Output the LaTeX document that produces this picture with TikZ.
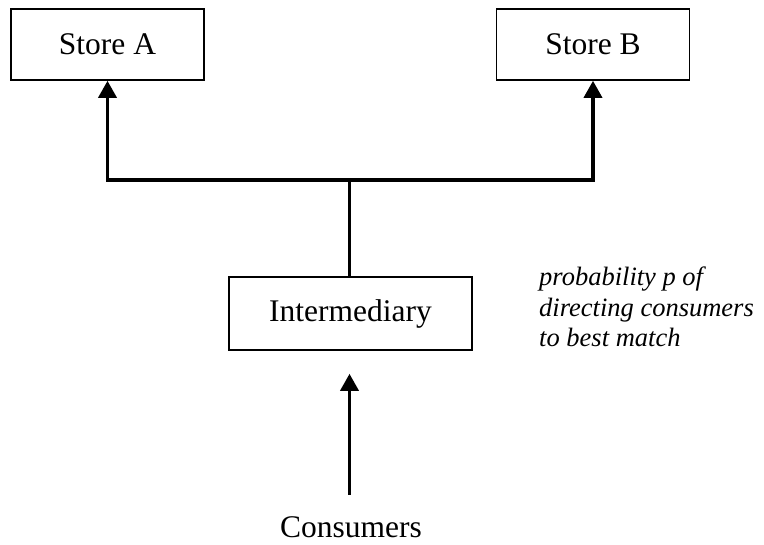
\documentclass[tikz,border=0pt]{standalone}
\usepackage{fontspec}
\setmainfont{Liberation Serif}
\usetikzlibrary{arrows.meta}
\begin{document}
\begin{tikzpicture}[x=1pt,y=-1pt,
  box/.style={draw,line width=1.6pt,minimum width=193pt,minimum height=71pt,inner sep=0pt,font=\fontsize{31.5}{37}\selectfont},
  conn/.style={line width=3.5pt},
  arr/.style={conn,-{Triangle[width=18pt,length=17pt]}},
  lbl/.style={inner sep=0pt,font=\fontsize{31.5}{37}\selectfont},
  note/.style={inner sep=0pt,align=left,font=\fontsize{26.5}{30.5}\selectfont\itshape}]
\useasboundingbox (0,0) rectangle (764,545);
\node[box] (a) at (107.5,44.5) {Store A};
\node[box] (b) at (593,44.5) {Store B};
\node[box,minimum width=243pt,minimum height=73pt] (m) at (350.5,313.5) {Intermediary};
\coordinate (j) at (349.5,180);
\draw[conn] (m.north -| j) -- (j);
\draw[arr] (j) -| (a.south);
\draw[arr] (j) -| (b.south);
\node[lbl,anchor=base] (c) at (351,537) {Consumers};
\draw[arr,shorten <=21pt,shorten >=23pt] (c.north -| j) -- (m.south -| j);
\node[note,anchor=north west] (n) at (539,267) {probability p of\\directing consumers\\to best match};
\end{tikzpicture}
\end{document}
